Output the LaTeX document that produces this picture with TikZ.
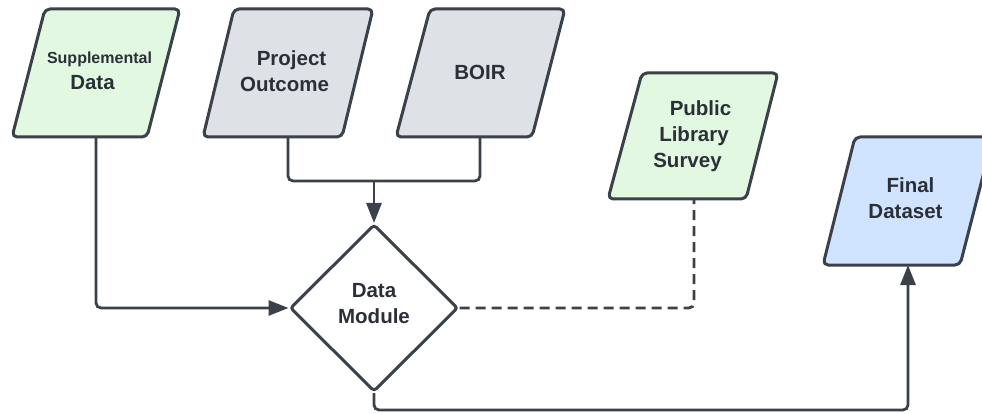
\documentclass[tikz,border=0pt]{standalone}
\usepackage{fontspec}
\setmainfont{Liberation Sans}
\usetikzlibrary{shapes.geometric,arrows.meta}
\definecolor{edgec}{HTML}{3A414A}
\definecolor{txtc}{HTML}{2B3038}
\definecolor{gfill}{HTML}{E2F8E1}
\definecolor{sfill}{HTML}{DEE1E6}
\definecolor{bfill}{HTML}{D0E4FF}
\begin{document}
\begin{tikzpicture}[x=1pt,y=-1pt,
  shapebox/.style={draw=edgec, line width=3pt, rounded corners=5pt, line join=round},
  lbl/.style={text=txtc, font=\bfseries\fontsize{20.5}{26}\selectfont, align=center, inner sep=0pt},
  conn/.style={draw=edgec, line width=2.8pt, rounded corners=5pt},
  tip/.style={-{Triangle[length=20pt,width=15pt]}},
  dashline/.style={dash pattern=on 10pt off 6pt},
  dmshape/.style={shape=diamond, draw=edgec, fill=white, line width=3pt, rounded corners=3pt,
    minimum width=168pt, minimum height=167pt, inner sep=0pt}
]
\path[clip] (0,0) rectangle (982,414);
% parallelograms
\draw[shapebox, fill=gfill] (45,9) -- (180,9) -- (147,137) -- (12,137) -- cycle;
\draw[shapebox, fill=sfill] (234,9) -- (373,9) -- (342,137) -- (203,137) -- cycle;
\draw[shapebox, fill=sfill] (430,9) -- (565,9) -- (532,137) -- (396,137) -- cycle;
\draw[shapebox, fill=gfill] (642,73) -- (778,73) -- (746,199) -- (608,199) -- cycle;
\draw[shapebox, fill=bfill] (855,137) -- (993,137) -- (960,265) -- (823,265) -- cycle;
% connection points
\coordinate (supB) at (96,137);
\coordinate (pojB) at (288,137);
\coordinate (boiB) at (480,137);
\coordinate (pubB) at (694,199);
\coordinate (finB) at (908,265);
\coordinate (join) at (374,181);
\coordinate (low) at (374,410);
% labels
\node[lbl] (supT) at (96,71) {{\fontsize{16}{20}\selectfont\hspace*{7pt}Supplemental}\\Data\hspace*{7pt}};
\node[lbl] (pojT) at (288,71) {\hspace*{7pt}Project\\Outcome\hspace*{7pt}};
\node[lbl] (boiT) at (480,72) {BOIR};
\node[lbl] (pubT) at (694,136.5) {\hspace*{13pt}Public\\Library\\Survey\hspace*{13pt}};
\node[lbl] (finT) at (908,198.5) {\hspace*{5pt}Final\\Dataset\hspace*{5pt}};
\node[dmshape] (dm) at (374,308) {};
\node[lbl] (dmT) at (374,304) {Data\\Module};
% connectors
\draw[conn, tip] (supB) |- (dm.west);
\draw[conn] (pojB) |- (join);
\draw[conn] (boiB) |- (join);
\draw[conn, tip] (join) -- (dm.north);
\draw[conn, dashline] (dm.east) -| (pubB);
\draw[conn, tip] (dm.south) |- (finB |- low) -- (finB);
\end{tikzpicture}
\end{document}
